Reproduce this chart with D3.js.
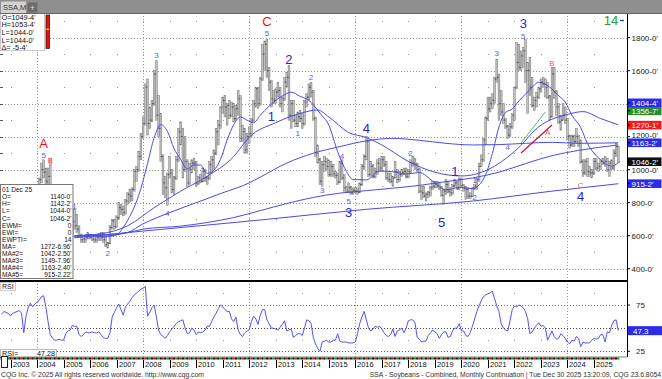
<!DOCTYPE html>
<html><head><meta charset="utf-8">
<script src="https://cdn.jsdelivr.net/npm/d3@7/dist/d3.min.js"></script>
<style>html,body{margin:0;padding:0;background:#fff;overflow:hidden}svg{display:block}text{font-family:"Liberation Sans",Arial,sans-serif}</style>
</head><body><svg id="chart" width="662" height="379"></svg>
<script>
// ---------- DATA (monthly, first month = 2002-09) ----------
const firstMonth = "2002-09";
const opens = [
 555,560,555,575,
 570,566,572,585,630,627,612,535,600,700,765,760,
 788,840,940,1000,985,930,960,655,575,535,530,545,
 550,515,600,630,620,685,660,640,600,575,580,590,
 605,590,580,575,590,600,590,575,545,555,650,690,
 655,710,770,760,740,810,850,840,880,990,1000,1080,
 1200,1280,1500,1280,1300,1400,1580,1330,1250,1080,920,890,
 970,980,880,950,1060,1230,1200,1000,1050,920,1000,1040,
 1040,915,950,930,990,950,950,1030,1060,1100,1230,1270,
 1380,1420,1380,1390,1330,1380,1310,1370,1430,1190,1230,1120,
 1200,1220,1300,1400,1490,1400,1550,1700,1760,1600,1530,1430,
 1420,1470,1480,1400,1430,1530,1560,1330,1400,1300,1280,1320,
 1310,1280,1410,1440,1500,1470,1310,1100,1060,930,1030,1050,
 1020,970,1020,975,965,925,1040,950,890,870,890,860,
 875,870,865,910,1020,1080,1170,970,1020,960,990,1040,
 1010,1060,1030,950,940,930,950,990,940,970,980,990,
 960,990,1040,1040,1030,1000,870,860,840,850,860,890,
 900,915,905,890,845,870,910,870,860,900,920,885,
 940,905,890,880,840,840,890,900,940,1020,1060,1180,
 1310,1370,1400,1420,1550,1560,1400,1350,1300,1260,1210,1260,
 1330,1500,1650,1620,1690,1720,1600,1600,1500,1390,1420,1440,
 1490,1530,1520,1500,1440,1320,1580,1470,1380,1290,1300,1330,
 1300,1200,1150,1200,1170,1200,1160,1050,980,1050,990,980,
 980,1050,1010,1020,1050,1040,1050,1000,1040,1010,1100,1140];
const highs = [
 590,575,590,585,
 580,580,590,640,650,660,620,610,720,790,790,800,
 850,950,1040,1060,1010,1010,1070,680,600,560,560,570,
 560,620,680,650,700,760,730,660,610,600,600,620,
 610,600,595,600,615,620,620,590,560,660,700,700,
 720,800,790,780,820,860,880,890,1000,1020,1110,1220,
 1320,1520,1550,1380,1420,1600,1660,1450,1340,1090,960,980,
 1080,1000,960,1080,1250,1290,1250,1200,1060,1040,1060,1070,
 1050,960,970,1010,1000,960,1050,1080,1120,1250,1300,1380,
 1440,1450,1400,1420,1410,1400,1390,1480,1450,1270,1250,1220,
 1260,1310,1420,1500,1500,1560,1760,1780,1790,1620,1540,1480,
 1490,1530,1500,1440,1560,1590,1630,1420,1420,1330,1350,1360,
 1340,1420,1460,1520,1530,1480,1320,1150,1070,1050,1080,1070,
 1060,1050,1030,990,980,1050,1060,970,900,920,900,890,
 890,890,920,1030,1090,1200,1180,1050,1030,1010,1060,1070,
 1080,1080,1050,980,980,960,1050,1000,990,1000,1010,1010,
 1000,1060,1080,1070,1040,1010,900,900,860,870,900,930,
 930,930,920,900,880,940,930,890,910,940,930,950,
 950,910,900,890,860,890,910,950,1040,1090,1190,1320,
 1440,1440,1460,1560,1670,1580,1480,1400,1310,1270,1280,1340,
 1500,1770,1760,1720,1740,1790,1650,1680,1560,1440,1470,1500,
 1550,1560,1550,1530,1450,1620,1620,1480,1400,1330,1400,1380,
 1310,1210,1210,1210,1250,1210,1180,1060,1060,1070,1020,1000,
 1070,1070,1040,1060,1070,1080,1070,1050,1060,1120,1160,1142.25];
const lows = [
 540,530,550,555,
 555,560,565,580,610,605,525,530,590,690,730,740,
 770,830,920,950,890,880,640,560,520,500,510,520,
 505,510,590,600,610,640,620,590,560,560,560,580,
 580,570,560,560,570,570,560,535,525,550,640,640,
 650,700,730,720,730,790,800,810,870,930,990,1060,
 1190,1270,1210,1250,1290,1390,1300,1200,1050,850,830,785,
 950,860,850,940,1050,1150,950,990,900,910,980,1000,
 900,910,920,925,930,910,940,980,1000,1090,1150,1250,
 1340,1320,1270,1310,1320,1290,1300,1330,1170,1170,1100,1100,
 1160,1200,1290,1380,1370,1390,1540,1600,1560,1480,1380,1400,
 1400,1440,1380,1350,1420,1500,1300,1250,1290,1260,1260,1290,
 1250,1270,1380,1420,1440,1300,1080,1040,910,900,990,1000,
 960,960,960,950,910,920,940,870,860,860,850,850,
 860,850,860,905,1000,1060,960,960,950,950,970,990,
 990,1020,940,930,920,900,950,920,930,960,970,950,
 950,980,1020,1000,990,860,820,830,810,830,840,880,
 890,890,880,840,790,850,860,840,850,900,880,880,
 900,870,820,825,825,835,880,880,930,1020,1050,1150,
 1300,1350,1370,1400,1530,1300,1330,1280,1250,1190,1200,1250,
 1300,1490,1600,1600,1620,1530,1340,1450,1380,1360,1380,1430,
 1470,1500,1440,1430,1300,1320,1430,1330,1280,1240,1300,1280,
 1180,1130,1140,1140,1160,1140,1040,960,970,960,960,950,
 970,1000,990,1000,1030,1020,990,960,1000,1000,1080,1044];
const closes = [
 560,555,575,570,
 566,572,585,630,627,612,535,600,700,765,760,788,
 840,940,1000,985,930,960,655,575,535,530,545,550,
 515,600,630,620,685,660,640,600,575,580,590,605,
 590,580,575,590,600,590,575,545,555,650,690,655,
 710,770,760,740,810,850,840,880,990,1000,1080,1200,
 1280,1500,1280,1300,1400,1580,1330,1250,1080,920,890,970,
 980,880,950,1060,1230,1200,1000,1050,920,1000,1040,1040,
 915,950,930,990,950,950,1030,1060,1100,1230,1270,1380,
 1420,1380,1390,1330,1380,1310,1370,1430,1190,1230,1120,1200,
 1220,1300,1400,1490,1400,1550,1700,1760,1600,1530,1430,1420,
 1470,1480,1400,1430,1530,1560,1330,1400,1300,1280,1320,1310,
 1280,1410,1440,1500,1470,1310,1100,1060,930,1030,1050,1020,
 970,1020,975,965,925,1040,950,890,870,890,860,875,
 870,865,910,1020,1080,1170,970,1020,960,990,1040,1010,
 1060,1030,950,940,930,950,990,940,970,980,990,960,
 990,1040,1040,1030,1000,870,860,840,850,860,890,900,
 915,905,890,845,870,910,870,860,900,920,885,940,
 905,890,880,840,840,890,900,940,1020,1060,1180,1310,
 1370,1400,1420,1550,1560,1400,1350,1300,1260,1210,1260,1330,
 1500,1650,1620,1690,1720,1600,1600,1500,1390,1420,1440,1490,
 1530,1520,1500,1440,1320,1580,1470,1380,1290,1300,1330,1300,
 1200,1150,1200,1170,1200,1160,1050,980,1050,990,980,980,
 1050,1010,1020,1050,1040,1050,1000,1040,1010,1100,1140,1046.25];
const rsiValues = [
 65,68,67,66,
 63,66,67,68,69,66,45,63,72,77,73,76,
 78,80,84,85,73,57,43,39,37,37,38,37,
 37,44,47,48,53,52,52,43,41,43,46,45,
 45,46,45,45,46,43,40,39,39,45,62,67,
 72,76,70,64,73,76,79,83,86,88,90,92,
 93,95,63,67,72,75,62,48,43,41,39,42,
 46,49,52,55,57,58,59,50,44,45,50,48,
 43,46,45,46,48,52,52,57,62,66,71,75,
 73,70,68,68,60,57,62,48,43,41,45,47,
 48,57,63,60,54,64,70,70,59,55,50,50,
 49,48,51,54,58,47,48,49,40,42,44,44,
 42,50,59,58,55,40,33,28,25,35,36,37,
 35,35,37,37,44,36,35,35,35,34,34,34,
 35,44,55,62,68,59,50,47,49,52,51,52,
 49,45,42,41,43,49,41,47,48,50,45,50,
 58,59,59,56,40,38,35,36,36,42,45,48,
 46,44,39,43,46,46,40,41,47,50,50,55,
 47,47,42,41,45,52,60,68,74,80,84,86,
 87,88,90,82,74,68,55,50,48,47,58,70,
 74,73,75,74,72,68,60,44,46,50,53,56,
 52,53,50,37,42,47,41,38,39,44,42,39,
 35,33,37,36,41,39,30,35,34,34,34,37,
 39,38,39,43,43,35,46,45,53,58,59,47.28];
// moving averages: [month, value]
const ma1 = [ // MA (ends 1272)
 ["2005-06",600],["2006-06",612],["2007-06",660],["2008-06",770],["2009-06",870],["2010-06",960],["2011-06",1080],
 ["2012-01",1197],["2013-01",1285],["2014-01",1345],["2014-08",1362],["2015-01",1320],["2015-10",1225],["2016-06",1195],
 ["2017-01",1150],["2018-01",1050],["2019-01",985],["2020-01",962],["2021-01",1000],["2022-01",1110],["2023-01",1270],
 ["2024-01",1335],["2024-08",1352],["2025-04",1310],["2025-12",1272]];
const ma2 = [ // MA#2 (ends 1042)
 ["2004-12",754],["2005-03",668],["2005-06",592],["2005-09",596],["2005-12",608],["2006-06",593],["2006-12",600],
 ["2007-06",693],["2007-12",886],["2008-03",1038],["2008-06",1194],["2008-09",1273],["2008-12",1232],["2009-03",1128],
 ["2009-06",1062],["2009-09",1004],["2009-12",1029],["2010-03",1028],["2010-06",978],["2010-09",996],["2010-12",1063],
 ["2011-03",1179],["2011-06",1273],["2011-09",1320],["2011-12",1300],["2012-03",1285],["2012-06",1330],["2012-10",1385],
 ["2013-01",1420],["2013-05",1455],["2013-08",1470],["2013-12",1445],["2014-04",1420],["2014-09",1343],["2015-01",1270],
 ["2015-05",1110],["2015-09",990],["2015-12",940],["2016-06",938],
 ["2016-12",992],["2017-06",988],["2017-12",974],["2018-06",983],["2018-12",931],["2019-06",878],["2019-12",893],
 ["2020-06",885],["2020-12",971],["2021-03",1098],["2021-06",1259],["2021-09",1347],["2021-12",1368],["2022-03",1416],
 ["2022-06",1458],["2022-09",1500],["2022-12",1530],["2023-05",1500],["2023-09",1448],["2023-12",1410],
 ["2024-03",1330],["2024-07",1255],["2024-10",1160],["2025-01",1100],["2025-04",1060],["2025-07",1030],["2025-09",1022],
 ["2025-12",1042]];
const ma3 = [ // MA#3 (ends 1150)
 ["2005-06",600],["2006-06",605],["2007-06",618],["2008-01",640],["2009-06",658],["2010-06",680],["2011-06",710],
 ["2012-06",752],["2013-06",795],["2014-06",832],["2015-06",858],["2016-06",873],["2017-06",888],["2018-06",905],
 ["2019-06",928],["2020-06",950],["2021-06",985],["2022-06",1037],["2023-06",1085],["2024-06",1117],["2025-12",1150]];
const ma4 = [ // MA#4 (ends 1163)
 ["2005-06",600],["2006-06",598],["2007-06",620],["2008-01",672],["2009-01",740],["2010-01",800],["2011-01",860],
 ["2012-01",920],["2012-06",955],["2013-06",1040],["2014-06",1100],["2015-06",1140],["2016-06",1175],["2017-06",1190],
 ["2018-06",1178],["2019-06",1160],["2020-06",1150],["2021-06",1152],["2022-06",1160],["2023-06",1166],["2024-06",1160],
 ["2025-12",1163]];
const ma5 = [ // MA#5 (ends 915)
 ["2005-06",588],["2008-01",628],["2012-06",695],["2016-06",760],["2020-06",810],["2023-06",870],["2025-12",915]];
const waveLabels = [
 ["2004-04",1160,"A","redBig"],["2004-04",1089,"5","blue"],["2004-07",1059,"B","red"],
 ["2005-06",782,"1","blue"],["2006-09",493,"2","blue"],["2008-07",1695,"3","blue"],["2008-12",736,"4","blue"],
 ["2012-09",1897,"C","redBig"],["2012-09",1825,"5","blue"],["2013-07",1669,"2","blueBig"],["2012-11",1321,"1","blueBig"],
 ["2014-05",1560,"2","blue"],["2013-11",1221,"1","blue"],["2016-06",1251,"4","blueBig"],
 ["2014-10",876,"3","blue"],["2015-07",1082,"4","blue"],["2015-10",809,"5","blue"],["2015-10",742,"3","blueBig"],
 ["2018-02",1101,"2","blue"],["2019-04",682,"5","blueBig"],["2019-10",988,"1","blueBig"],
 ["2020-07",938,"1","blue"],["2020-07",836,"2","blue"],["2021-05",1705,"3","blue"],["2021-10",1139,"4","blue"],
 ["2022-05",1890,"3","blueBig"],["2022-05",1812,"5","blue"],["2023-06",1645,"B","red"],["2023-04",1230,"A","red"],
 ["2024-07",907,"C","red"],["2024-07",836,"4","blueBig"]];
const trendGreen = [["2022-04",1162],["2023-03",1350]];
const trendRed = [["2022-04",1101],["2023-06",1271]];
const years = d3.range(2003, 2026);
const priceTicks = [400,600,800,1000,1200,1600,1800];
const priceMarkers = [[1404.5,"1404-4'","#2b2bea"],[1356.875,"1356-7'","#2a8c2a"],[1270.125,"1270-1'","#f01c1c"],
 [1163.25,"1163-2'","#2b2bea"],[1046.25,"1046-2'","#111111"],[915.25,"915-2'","#2b2bea"]];
const infoTop = [["O=1049-4'"],["H=1053-4'"],["L=1044-0'"],["L=1044-0'"],["\u0394=   -5-4'"]];
const infoRows = [["01 Dec 25",""],["O=","1140-0'"],["H=","1142-2'"],["L=","1044-0'"],["C=","1046-2'"],
 ["EWM=","0"],["EWI=","0"],["EWPTI=","14"],["MA=","1272-6.96'"],["MA#2=","1042-2.50'"],["MA#3=","1149-7.96'"],
 ["MA#4=","1163-2.40'"],["MA#5=","915-2.22'"]];

// ---------- helpers ----------
const mIdx = s => { const [Y,M] = s.split("-").map(Number); const [Y0,M0] = firstMonth.split("-").map(Number); return (Y-Y0)*12 + (M-M0); };
const svg = d3.select("#chart");
const R = 627, TOP = 13, MID = 281, BOT = 357;
const x = d3.scaleLinear().domain([4, 268]).range([10.5, 594]);
const y = d3.scaleLinear().domain([400, 1800]).range([268.7, 37.7]);
const yr = d3.scaleLinear().domain([25, 75]).range([351.3, 305]);
const BLUE = "#4a4ae8";

svg.append("rect").attr("width",662).attr("height",379).attr("fill","#fff");
svg.append("rect").attr("x",0).attr("y",0).attr("width",662).attr("height",13).attr("fill","#8f8f8f");
svg.append("rect").attr("x",1).attr("y",1.5).attr("width",25).attr("height",11.5).attr("fill","#d2d2d2");
svg.append("text").attr("x",3).attr("y",10).attr("font-size",7.5).attr("fill","#333").text("SSA,M");
svg.append("rect").attr("x",27.5).attr("y",2.5).attr("width",10).attr("height",10).attr("fill","#6c6c6c");
svg.append("text").attr("x",32.5).attr("y",10.5).attr("font-size",9).attr("fill","#ddd").attr("text-anchor","middle").text("+");

const defs = svg.append("defs");
defs.append("clipPath").attr("id","cp").append("rect").attr("x",1).attr("y",TOP).attr("width",R-1).attr("height",MID-TOP);
defs.append("clipPath").attr("id","cr").append("rect").attr("x",0).attr("y",MID+1).attr("width",R).attr("height",BOT-MID-1);

// ---------- grid ----------
const grid = svg.append("g");
priceTicks.concat([1400]).forEach(p => {
  grid.append("line").attr("x1",2).attr("x2",R).attr("y1",Math.round(y(p))+0.5).attr("y2",Math.round(y(p))+0.5)
    .attr("stroke","#9a9a9a").attr("stroke-dasharray","1,2");
});
years.forEach(Y => {
  const xx = Math.round(x(mIdx(Y+"-01")))+0.5;
  if (Y % 4 === 0) {
    [[TOP,MID],[MID,BOT]].forEach(([a,b]) => grid.append("line").attr("x1",xx).attr("x2",xx).attr("y1",a).attr("y2",b)
      .attr("stroke","#9a9a9a").attr("stroke-dasharray","1,2"));
  }
  d3.range(500, 2000, 200).forEach(p => grid.append("rect").attr("x",xx-0.5).attr("y",Math.round(y(p))).attr("width",1).attr("height",1).attr("fill","#999"));
  [37.5, 87.5].forEach(v => grid.append("rect").attr("x",xx-0.5).attr("y",Math.round(yr(v))).attr("width",1).attr("height",1).attr("fill","#999"));
});
d3.range(400, 2000, 100).forEach(p => grid.append("line").attr("x1",0).attr("x2",3).attr("y1",Math.round(y(p))+0.5).attr("y2",Math.round(y(p))+0.5).attr("stroke","#555"));

// ---------- bars ----------
const main = svg.append("g").attr("clip-path","url(#cp)");
const bars = main.append("g");
closes.forEach((c,i) => {
  const xx = x(i);
  bars.append("rect").attr("x",xx-0.9).attr("y",y(highs[i])).attr("width",1.8).attr("height",Math.max(1,y(lows[i])-y(highs[i])))
    .attr("fill","#c2c2c2").attr("stroke","#6a6a6a").attr("stroke-width",0.45);
  bars.append("line").attr("x1",xx-1.4).attr("x2",xx).attr("y1",y(opens[i])).attr("y2",y(opens[i])).attr("stroke","#444").attr("stroke-width",0.7);
  bars.append("line").attr("x1",xx).attr("x2",xx+1.4).attr("y1",y(c)).attr("y2",y(c)).attr("stroke","#444").attr("stroke-width",0.7);
});

// ---------- moving averages ----------
const lineMA = d3.line().x(d => x(mIdx(d[0]))).y(d => y(d[1])).curve(d3.curveMonotoneX);
[ma5, ma4, ma3, ma1, ma2].forEach(s => main.append("path").attr("d",lineMA(s)).attr("fill","none").attr("stroke",BLUE).attr("stroke-width",1));

main.append("path").attr("d",lineMA(trendGreen)).attr("stroke","#55bb55").attr("stroke-width",1).attr("fill","none");
main.append("path").attr("d",lineMA(trendRed)).attr("stroke","#cc1133").attr("stroke-width",1.2).attr("fill","none");

const styles = {blue:{c:"#5a5aee",s:8},blueBig:{c:"#2626d0",s:13},red:{c:"#ff5a5a",s:8},redBig:{c:"#ee1111",s:13}};
waveLabels.forEach(([m,p,t,st]) => {
  const S = styles[st];
  main.append("text").attr("x",x(mIdx(m))).attr("y",y(p)).attr("dy","0.36em").attr("text-anchor","middle")
    .attr("font-size",S.s).attr("fill",S.c).text(t);
});
svg.append("text").attr("x",611).attr("y",25).attr("font-size",13).attr("fill","#2a9a2a").attr("text-anchor","middle").text("14");
svg.append("line").attr("x1",620).attr("x2",624).attr("y1",20.5).attr("y2",20.5).attr("stroke","#2b2bea").attr("stroke-width",1.2);

// ---------- info boxes ----------
svg.append("rect").attr("x",0.5).attr("y",13.5).attr("width",44).attr("height",37).attr("fill","#fff").attr("stroke","#c8c8c8");
infoTop.forEach((r,i) => svg.append("text").attr("x",1.5).attr("y",19.5+i*7.7).attr("font-size",7.3).attr("fill","#111").text(r[0]));
svg.append("rect").attr("x",46).attr("y",15).attr("width",3.5).attr("height",33.5).attr("fill","#e81010").attr("stroke","#111").attr("stroke-width",0.7);
svg.append("rect").attr("x",46.5).attr("y",28.5).attr("width",2.5).attr("height",1.6).attr("fill","#e8e020");

svg.append("rect").attr("x",0.5).attr("y",184.5).attr("width",72.5).attr("height",94).attr("fill","#fff").attr("stroke","#777");
infoRows.forEach((r,i) => {
  const yy = 192.3 + i*7.05;
  svg.append("text").attr("x",2).attr("y",yy).attr("font-size",6.6).attr("fill","#111").text(r[0]);
  svg.append("text").attr("x",71.5).attr("y",yy).attr("font-size",6.6).attr("fill","#111").attr("text-anchor","end").text(r[1]);
});

// ---------- separators & axis ----------
svg.append("line").attr("x1",0).attr("x2",R).attr("y1",MID).attr("y2",MID).attr("stroke","#000").attr("stroke-width",2);
svg.append("line").attr("x1",R+0.5).attr("x2",R+0.5).attr("y1",TOP).attr("y2",BOT).attr("stroke","#000").attr("stroke-width",1);
svg.append("line").attr("x1",0).attr("x2",662).attr("y1",TOP+0.5).attr("y2",TOP+0.5).attr("stroke","#666").attr("stroke-width",1);

let labels = priceTicks.map(p => ({p, t: p+"-0'", c:null})).concat(priceMarkers.map(([p,t,c]) => ({p,t,c})));
labels.forEach(l => l.y = y(l.p));
labels.sort((a,b) => b.y - a.y);
for (let i=1;i<labels.length;i++) { labels[i].y = Math.min(labels[i].y, labels[i-1].y - 8); }
labels.forEach(l => {
  if (l.c) svg.append("rect").attr("x",628).attr("y",l.y-4.3).attr("width",33.5).attr("height",8.6).attr("fill",l.c);
  svg.append("line").attr("x1",R).attr("x2",R+3).attr("y1",y(l.p)).attr("y2",y(l.p)).attr("stroke","#000");
  svg.append("text").attr("x",631.5).attr("y",l.y+3).attr("font-size",8).attr("fill",l.c?"#fff":"#222").text(l.t);
});

// ---------- RSI panel ----------
const rp = svg.append("g");
rp.append("line").attr("x1",0).attr("x2",R).attr("y1",Math.round(yr(75))+0.5).attr("y2",Math.round(yr(75))+0.5).attr("stroke","#e04040").attr("stroke-dasharray","1,2");
rp.append("line").attr("x1",0).attr("x2",R).attr("y1",Math.round(yr(50))+0.5).attr("y2",Math.round(yr(50))+0.5).attr("stroke","#444").attr("stroke-dasharray","1,2");
rp.append("line").attr("x1",0).attr("x2",R).attr("y1",Math.round(yr(25))+0.5).attr("y2",Math.round(yr(25))+0.5).attr("stroke","#4040f0").attr("stroke-dasharray","1,2");
const rsiLine = d3.line().x((d,i) => x(i)).y(d => yr(d));
svg.append("g").attr("clip-path","url(#cr)").append("path").attr("d",rsiLine(rsiValues)).attr("fill","none").attr("stroke","#5252f5").attr("stroke-width",1);
rp.append("rect").attr("x",0.5).attr("y",282.5).attr("width",15).attr("height",8).attr("fill","#fff").attr("stroke","#ccc");
rp.append("text").attr("x",2).attr("y",289).attr("font-size",7).attr("fill","#222").text("RSI");
rp.append("rect").attr("x",0.5).attr("y",349.5).attr("width",56).attr("height",8).attr("fill","#fff").attr("stroke","#bbb");
rp.append("text").attr("x",2).attr("y",356).attr("font-size",7.2).attr("fill","#111").text("RSI=");
rp.append("text").attr("x",55).attr("y",356).attr("font-size",7.2).attr("fill","#111").attr("text-anchor","end").text(d3.format(".2f")(rsiValues[rsiValues.length-1]));
[[75,"75"],[25,"25"]].forEach(([v,t]) => {
  rp.append("line").attr("x1",R).attr("x2",R+3).attr("y1",yr(v)).attr("y2",yr(v)).attr("stroke","#000");
  rp.append("text").attr("x",636).attr("y",yr(v)+3).attr("font-size",8).attr("fill","#222").text(t);
});
const last = rsiValues[rsiValues.length-1];
rp.append("rect").attr("x",628).attr("y",yr(last)-4.5).attr("width",34).attr("height",9).attr("fill","#2b2bea");
rp.append("text").attr("x",633).attr("y",yr(last)+3).attr("font-size",8).attr("fill","#fff").text(d3.format(".1f")(last));

// ---------- time axis ----------
const ax = svg.append("g");
ax.append("line").attr("x1",0).attr("x2",R).attr("y1",BOT).attr("y2",BOT).attr("stroke","#888");
const stripCols = ["#111","#d81818","#111","#1a9a1a"];
closes.forEach((c,i) => ax.append("rect").attr("x",x(i)-1.1).attr("y",357.5).attr("width",2.2).attr("height",2).attr("fill",stripCols[i%4]));
years.forEach(Y => {
  const xx = Math.round(x(mIdx(Y+"-01")))+0.5;
  ax.append("line").attr("x1",xx).attr("x2",xx).attr("y1",360).attr("y2",368).attr("stroke","#000");
  ax.append("text").attr("x",xx+1.5).attr("y",366.8).attr("font-size",7.5).attr("fill","#111").text(Y);
});
ax.append("rect").attr("x",1.5).attr("y",356.5).attr("width",6).attr("height",11).attr("fill","#fff").attr("stroke","#222");
svg.append("text").attr("x",1).attr("y",376.5).attr("font-size",6.8).attr("fill","#333").text("CQG Inc. \u00a9 2025 All rights reserved worldwide. http://www.cqg.com");
svg.append("text").attr("x",661).attr("y",376.5).attr("font-size",6.8).attr("fill","#333").attr("text-anchor","end")
  .text("SSA - Soybeans - Combined, Monthly Continuation | Tue Dec 30 2025 13:20:09, CQG 23.6.8054");
</script></body></html>
